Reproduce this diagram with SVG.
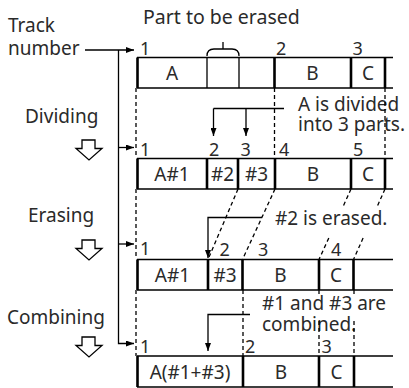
<svg xmlns="http://www.w3.org/2000/svg" width="409" height="388" viewBox="0 0 409 388">
<defs>
<style>
text{font-family:"Noto Sans","DejaVu Sans",sans-serif;fill:#2a2a2a}
.lbl{font-size:19px}
.box{font-size:19px;text-anchor:middle}
.num{font-size:18px}
.h{stroke:#000;stroke-width:1.6;fill:none}
.tk{stroke:#000;stroke-width:2.6;fill:none}
.tn{stroke:#000;stroke-width:1.3;fill:none}
.ln{stroke:#000;stroke-width:1.3;fill:none}
.ds{stroke:#000;stroke-width:1.3;stroke-dasharray:4 3;fill:none}
.ha{fill:#fff;stroke:#000;stroke-width:1.3}
</style>
<marker id="ah" viewBox="0 0 8 6" refX="8" refY="3" markerWidth="8" markerHeight="6" markerUnits="userSpaceOnUse" orient="auto">
<path d="M0,0 L8,3 L0,6 z" fill="#000"/>
</marker>
</defs>
<rect width="409" height="388" fill="#fff"/>

<g id="labels">
<text class="lbl" x="143" y="24" style="font-size:19.5px">Part to be erased</text>
<text class="lbl" x="8" y="31.5">Track</text>
<text class="lbl" x="8" y="55">number</text>
<text class="lbl" x="25" y="123">Dividing</text>
<text class="lbl" x="28" y="221.5">Erasing</text>
<text class="lbl" x="7" y="324">Combining</text>
<text class="lbl" x="298" y="111">A is divided</text>
<text class="lbl" x="298" y="131">into 3 parts.</text>
<text class="lbl" x="275" y="225">#2 is erased.</text>
<text class="lbl" x="262" y="309.5">#1 and #3 are</text>
<text class="lbl" x="262" y="331">combined.</text>
<polygon class="ha" points="82,140 95,140 95,148.5 102,148.5 89,160 76,148.5 82,148.5"/>
<polygon class="ha" points="82,240 95,240 95,248.5 102,248.5 89,260 76,248.5 82,248.5"/>
<polygon class="ha" points="82,337 95,337 95,345.5 102,345.5 89,357 76,345.5 82,345.5"/>
</g>

<g id="row1">
<path class="h" d="M137,57.5 H393 M137,88 H393"/>
<path class="tk" d="M137.5,57.5 V88 M274.5,57.5 V88 M351,57.5 V88 M385,57.5 V88"/>
<path class="tn" d="M207,57.5 V88 M239,57.5 V88"/>
<path class="tn" d="M207,56 Q207,49 214,49 L232,49 Q239,49 239,56 M223,49 V42"/>
<text class="box" x="172" y="79.5">A</text>
<text class="box" x="312.5" y="79.5">B</text>
<text class="box" x="368" y="79.5">C</text>
<text class="num" x="140" y="55">1</text>
<text class="num" x="276" y="55">2</text>
<text class="num" x="352.5" y="55">3</text>
</g>

<g id="row2">
<path class="h" d="M137,158.5 H393 M137,189 H393"/>
<path class="tk" d="M137.5,158.5 V189 M207,158.5 V189 M238,158.5 V189 M275,158.5 V189 M351,158.5 V189 M385,158.5 V189"/>
<text class="box" x="172" y="180.5">A#1</text>
<text class="box" x="222.5" y="180.5">#2</text>
<text class="box" x="256.5" y="180.5">#3</text>
<text class="box" x="313" y="180.5">B</text>
<text class="box" x="368" y="180.5">C</text>
<text class="num" x="140" y="156">1</text>
<text class="num" x="209" y="156">2</text>
<text class="num" x="240.5" y="156">3</text>
<text class="num" x="279" y="156">4</text>
<text class="num" x="353" y="156">5</text>
</g>

<g id="row3">
<path class="h" d="M137,259.5 H393 M137,290 H393"/>
<path class="tk" d="M137.5,259.5 V290 M208,259.5 V290 M242.5,259.5 V290 M319,259.5 V290 M353.5,259.5 V290"/>
<text class="box" x="172.5" y="281.5">A#1</text>
<text class="box" x="225" y="281.5">#3</text>
<text class="box" x="280.5" y="281.5">B</text>
<text class="box" x="336" y="281.5">C</text>
<text class="num" x="140" y="255">1</text>
<text class="num" x="219.5" y="256">2</text>
<text class="num" x="258" y="256">3</text>
<text class="num" x="331" y="256">4</text>
</g>

<g id="row4">
<path class="h" d="M137,356 H393 M137,387 H393"/>
<path class="tk" d="M137.5,356 V387 M243,356 V387 M319,356 V387 M354,356 V387"/>
<text class="box" x="190" y="378.5">A(#1+#3)</text>
<text class="box" x="281" y="378.5">B</text>
<text class="box" x="336.5" y="378.5">C</text>
<text class="num" x="140" y="353">1</text>
<text class="num" x="245" y="353">2</text>
<text class="num" x="321.5" y="353">3</text>
</g>

<g id="connectors">
<path class="ln" d="M85,50 H134" marker-end="url(#ah)"/>
<path class="ln" d="M118.5,50 V343.5 H134" marker-end="url(#ah)"/>
<path class="ln" d="M118.5,147.5 H134" marker-end="url(#ah)"/>
<path class="ln" d="M118.5,244 H134" marker-end="url(#ah)"/>
<path class="ds" d="M136,88 V158 M136,189 V259 M136,290 V356"/>
<path class="ds" d="M274.5,88 V158 M385,88 V158"/>
<path class="ln" d="M213.5,108.5 H284"/>
<path class="ln" d="M213.5,108.5 V136" marker-end="url(#ah)"/>
<path class="ln" d="M246,108.5 V136" marker-end="url(#ah)"/>
<path class="ds" d="M238,189 L208,259.5 M275,189 L242.5,259.5"/>
<path class="ds" d="M351,189 L343.3,206 M328.8,238 L319,259.5 M385,189 L377.4,206 M363.1,238 L353.5,259.5"/>
<path class="ln" d="M262,217.5 H208 V258" marker-end="url(#ah)"/>
<path class="ds" d="M243,290 V356 M319,290 V296 M319,321 V356 M354,290 V296 M354,321 V356"/>
<path class="ln" d="M250,314.5 H208 V351" marker-end="url(#ah)"/>
</g>
</svg>
